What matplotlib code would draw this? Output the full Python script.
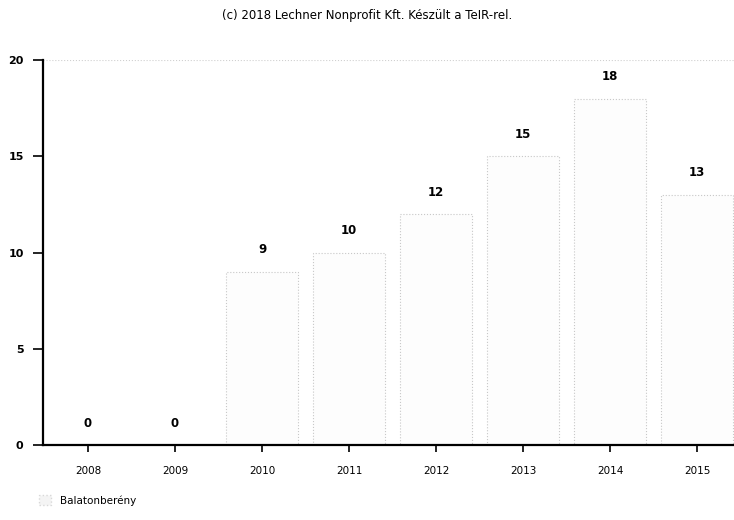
import matplotlib
matplotlib.use("Agg")
import matplotlib.pyplot as plt
from matplotlib.patches import Patch

years = ["2008", "2009", "2010", "2011", "2012", "2013", "2014", "2015"]
values = [0, 0, 9, 10, 12, 15, 18, 13]
series_name = "Balatonberény"
title = "(c) 2018 Lechner Nonprofit Kft. Készült a TeIR-rel."
yticks = [0, 5, 10, 15, 20]

fig = plt.figure(figsize=(7.34, 5.2), dpi=100)
ax = fig.add_axes([0.0586, 0.1442, 0.9414, 0.7404])

x = list(range(len(years)))
bars = ax.bar(x, values, width=0.82, color="#fdfdfd", edgecolor="#c8c8c8",
              linewidth=0.8, linestyle=":")
ax.axhline(20, color="#d0d0d0", lw=0.8, ls=":", zorder=0)

for xi, v in zip(x, values):
    ax.annotate(str(v), (xi, v), xytext=(0, 11), textcoords="offset points",
                ha="center", va="bottom", fontsize=8.5, fontweight="bold",
                color="black")

ax.set_xlim(-0.517, 7.425)
ax.set_ylim(0, 20)
ax.set_xticks(x)
ax.set_xticklabels(years, fontsize=7.5)
ax.set_yticks(yticks)
ax.set_yticklabels([str(t) for t in yticks], fontsize=8, fontweight="bold")
ax.tick_params(axis="x", length=5, width=1.2, pad=10, color="black")
ax.tick_params(axis="y", length=7, width=1.2, pad=7, color="black")
for s in ["top", "right"]:
    ax.spines[s].set_visible(False)
for s in ["left", "bottom"]:
    ax.spines[s].set_linewidth(1.6)

fig.text(0.5, 0.971, title, ha="center", va="center", fontsize=8.5)

handle = Patch(facecolor="#f4f4f4", edgecolor="#d8d8d8", linestyle=":")
fig.legend([handle], [series_name], loc="center left",
           bbox_to_anchor=(0.04, 0.038), frameon=False, fontsize=7.5,
           handlelength=1.2, handleheight=1.2, handletextpad=0.8)

fig.savefig("out.png", dpi=100)
